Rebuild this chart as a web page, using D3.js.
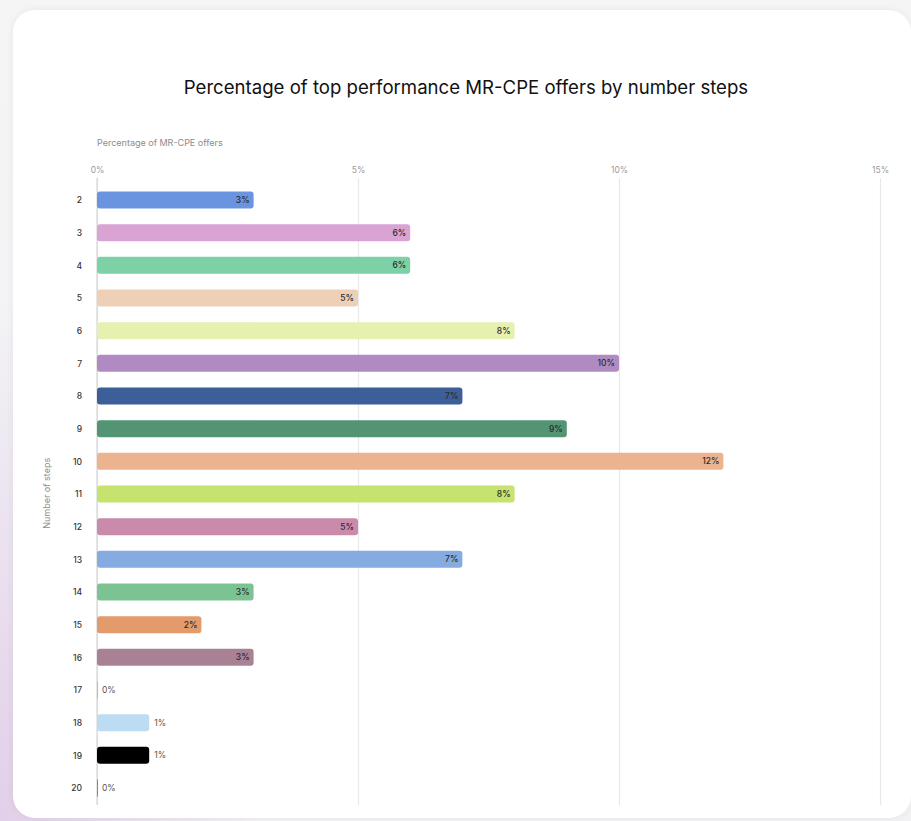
<!DOCTYPE html>
<html>
<head>
<meta charset="utf-8">
<script src="https://cdn.jsdelivr.net/npm/d3@7"></script>
<style>
  html, body { margin: 0; padding: 0; }
  body {
    width: 911px; height: 821px; overflow: hidden;
    background:
      radial-gradient(ellipse 260px 520px at 0% 100%, #e2cfea 0%, rgba(226,207,234,0) 100%),
      linear-gradient(180deg, #f5f5f6 0%, #f2f1f4 100%);
    font-family: Inter, "Noto Sans", sans-serif;
  }
  .card {
    position: absolute; left: 13px; top: 10px; width: 898px; height: 808px;
    background: #fff; border-radius: 22px;
    box-shadow: 0 0 8px rgba(0,0,0,0.06);
  }
  svg { position: absolute; left: 0; top: 0; }
</style>
</head>
<body>
<div class="card"></div>
<script>
// Share of top performing MR-CPE offers per number of steps
const steps = ["2","3","4","5","6","7","8","9","10","11","12","13","14","15","16","17","18","19","20"];
const shares = [3, 6, 6, 5, 8, 10, 7, 9, 12, 8, 5, 7, 3, 2, 3, 0, 1, 1, 0];
const barColors = ["#6a93e0","#d9a3d3","#7ed1a6","#edd0b5","#e6f0b0","#b28ac2","#3c5f9a","#529473",
                   "#ebb38e","#c6e36f","#c98aac","#84ace0","#7cc393","#e49b6c","#a88294","#9cc4ee",
                   "#bcdcf3","#000000","#8a8a8a"];
const xTicks = [0, 5, 10, 15];

const width = 911, height = 821;
const svg = d3.select("body").append("svg").attr("width", width).attr("height", height);

const x = d3.scaleLinear().domain([0, 15]).range([97, 880]);
const y = d3.scalePoint().domain(steps).range([183.7, 804.3]).padding(0.5);
const barH = 17;

// title
svg.append("text")
  .attr("x", 466).attr("y", 94)
  .attr("text-anchor", "middle")
  .attr("font-size", 18.6).attr("fill", "#111")
  .text("Percentage of top performance MR-CPE offers by number steps");

// axis title
svg.append("text")
  .attr("x", 97).attr("y", 146)
  .attr("font-size", 9).attr("fill", "#8c8c8c")
  .text("Percentage of MR-CPE offers");

svg.append("text")
  .attr("transform", `translate(50,${y("10") + 32}) rotate(-90)`)
  .attr("text-anchor", "middle")
  .attr("font-size", 9).attr("fill", "#8c8c8c")
  .text("Number of steps");

// x axis with gridlines
const xAxis = d3.axisTop(x).tickValues(xTicks).tickFormat(d => d + "%")
  .tickSize(-(805 - 178)).tickPadding(5);
const gx = svg.append("g").attr("transform", "translate(0,178)").call(xAxis);
gx.select(".domain").remove();
gx.selectAll(".tick line").attr("stroke", "#e8e8e8").attr("stroke-width", 1.2);
gx.selectAll(".tick text").attr("font-size", 8.5).attr("fill", "#9a9a9a")
  .attr("font-family", "Inter, sans-serif");

// baseline
svg.append("line").attr("x1", x(0)).attr("x2", x(0)).attr("y1", 178).attr("y2", 805)
  .attr("stroke", "#d0d0d0");

// y axis labels
const yAxis = d3.axisLeft(y).tickSize(0).tickPadding(15);
const gy = svg.append("g").attr("transform", `translate(${x(0)},0)`).call(yAxis);
gy.select(".domain").remove();
gy.selectAll(".tick text").attr("font-size", 8.5).attr("font-weight", 500).attr("fill", "#333")
  .attr("font-family", "Inter, sans-serif");

// bars
svg.append("g").selectAll("rect").data(steps).join("rect")
  .attr("x", x(0))
  .attr("y", d => y(d) - barH / 2)
  .attr("width", (d, i) => Math.max(1, x(shares[i]) - x(0)))
  .attr("height", barH)
  .attr("rx", (d, i) => shares[i] > 0 ? 3 : 0)
  .attr("fill", (d, i) => barColors[i]);

// value labels: inside for wide bars, outside for narrow ones
svg.append("g").selectAll("text").data(steps).join("text")
  .attr("x", (d, i) => shares[i] >= 2 ? x(shares[i]) - 4 : x(shares[i]) + 5)
  .attr("y", d => y(d) + 3)
  .attr("text-anchor", (d, i) => shares[i] >= 2 ? "end" : "start")
  .attr("font-size", 8.5)
  .attr("font-weight", (d, i) => shares[i] >= 2 ? 500 : 400)
  .attr("fill", (d, i) => shares[i] >= 2 ? "#2a2a2a" : "#555")
  .text((d, i) => shares[i] + "%");
</script>
</body>
</html>
